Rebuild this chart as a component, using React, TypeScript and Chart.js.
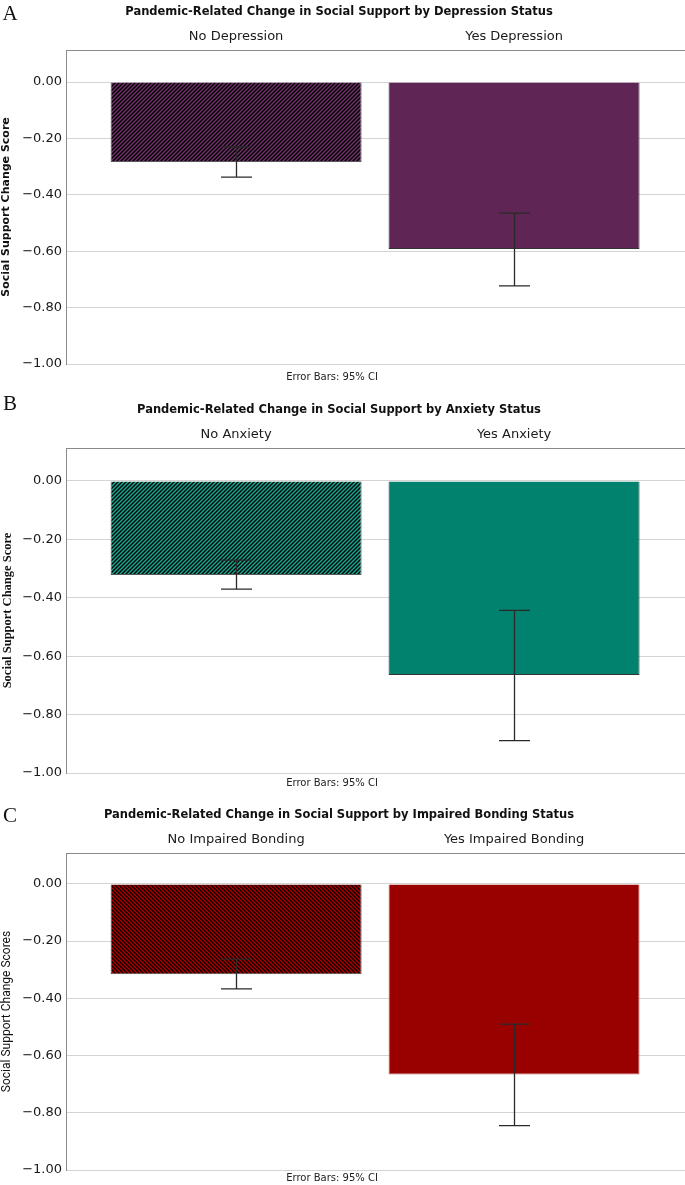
import React, { useEffect, useRef } from "react";
import { Chart, registerables } from "chart.js";

Chart.register(...registerables);

// ---------- DATA ----------
const Y_TICKS = [0, -0.2, -0.4, -0.6, -0.8, -1.0];

const catsA = ["No Depression", "Yes Depression"];
const meansA = [-0.284, -0.592];
const ciLowA = [-0.337, -0.723];
const ciHighA = [-0.23, -0.465];

const catsB = ["No Anxiety", "Yes Anxiety"];
const meansB = [-0.322, -0.664];
const ciLowB = [-0.37, -0.889];
const ciHighB = [-0.271, -0.443];

const catsC = ["No Impaired Bonding", "Yes Impaired Bonding"];
const meansC = [-0.316, -0.666];
const ciLowC = [-0.367, -0.845];
const ciHighC = [-0.263, -0.49];

const titleA = "Pandemic-Related Change in Social Support by Depression Status";
const titleB = "Pandemic-Related Change in Social Support by Anxiety Status";
const titleC = "Pandemic-Related Change in Social Support by Impaired Bonding Status";
const yTitleA = "Social Support Change Score";
const yTitleB = "Social Support Change Score";
const yTitleC = "Social Support Change Scores";
const footnote = "Error Bars: 95% CI";

const SANS = "'DejaVu Sans', sans-serif";
const SERIF = "'Liberation Serif', 'DejaVu Serif', serif";

function makeHatch(fg: string, bg: string, dir: string) {
  const p = 4;
  const c = document.createElement("canvas");
  c.width = p;
  c.height = p;
  const g = c.getContext("2d")!;
  g.fillStyle = bg;
  g.fillRect(0, 0, p, p);
  g.strokeStyle = fg;
  g.lineWidth = 1.5;
  g.beginPath();
  if (dir === "/") {
    g.moveTo(-1, p + 1); g.lineTo(p + 1, -1);
    g.moveTo(-1, 1); g.lineTo(1, -1);
    g.moveTo(p - 1, p + 1); g.lineTo(p + 1, p - 1);
  } else {
    g.moveTo(-1, -1); g.lineTo(p + 1, p + 1);
    g.moveTo(p - 1, -1); g.lineTo(p + 1, 1);
    g.moveTo(-1, p - 1); g.lineTo(1, p + 1);
  }
  g.stroke();
  return g.createPattern(c, "repeat");
}

const errorBarPlugin = {
  id: "errorBars",
  afterDatasetsDraw(chart: any, _args: any, opts: any) {
    const { lows, highs } = opts;
    if (!lows) return;
    const xs = chart.scales.x;
    const ys = chart.scales.y;
    const ctx = chart.ctx;
    ctx.save();
    ctx.strokeStyle = "#2a2a2a";
    ctx.lineWidth = 1.3;
    for (let i = 0; i < lows.length; i++) {
      const px = Math.round(xs.getPixelForValue(i)) + 0.5;
      const y1 = ys.getPixelForValue(highs[i]);
      const y2 = ys.getPixelForValue(lows[i]);
      ctx.beginPath();
      ctx.moveTo(px, y1);
      ctx.lineTo(px, y2);
      ctx.moveTo(px - 15.5, y1);
      ctx.lineTo(px + 15.5, y1);
      ctx.moveTo(px - 15.5, y2);
      ctx.lineTo(px + 15.5, y2);
      ctx.stroke();
    }
    ctx.restore();
  },
};

type PanelProps = {
  cats: string[];
  means: number[];
  lows: number[];
  highs: number[];
  solid: string;
  hatchFg: string;
  dir: string;
  borders: string[];
  yTitle: string;
  yTitleFont: any;
  top: number;
  height: number;
  chartTop: number;
  chartBottom: number;
  yMax: number;
};

function Panel(p: PanelProps) {
  const ref = useRef<HTMLCanvasElement>(null);
  useEffect(() => {
    const canvas = ref.current!;
    const hatch = makeHatch(p.hatchFg, "#000000", p.dir);
    const chart = new Chart(canvas, {
      type: "bar",
      data: {
        datasets: [
          {
            data: p.means.map((m, i) => ({ x: i, y: m })),
            backgroundColor: [hatch as any, p.solid],
            borderColor: p.borders,
            borderWidth: 1,
            barPercentage: 0.903,
            categoryPercentage: 1,
          },
        ],
      },
      options: {
        animation: false,
        responsive: false,
        maintainAspectRatio: false,
        layout: { padding: { left: 0, right: 0, top: 0, bottom: p.height - p.chartBottom } },
        plugins: {
          legend: { display: false },
          tooltip: { enabled: false },
          errorBars: { lows: p.lows, highs: p.highs },
        } as any,
        scales: {
          x: {
            type: "linear",
            position: "top",
            offset: false,
            min: -0.612,
            max: 1.615,
            grid: { display: false, drawTicks: false, offset: false },
            border: { display: true, color: "#8a8a8a", width: 1 },
            afterBuildTicks: (s: any) => {
              s.ticks = p.cats.map((_, i) => ({ value: i }));
            },
            afterFit: (s: any) => {
              s.height = p.chartTop;
            },
            ticks: {
              callback: (v: any) => p.cats[v] ?? "",
              font: { family: SANS, size: 13 },
              color: "#1a1a1a",
              padding: 6,
              maxRotation: 0,
              autoSkip: false,
            },
          },
          y: {
            type: "linear",
            min: -1,
            max: p.yMax,
            afterBuildTicks: (s: any) => {
              s.ticks = Y_TICKS.map((v) => ({ value: v }));
            },
            afterFit: (s: any) => {
              s.width = 66;
            },
            grid: { color: "#d4d4d4", drawTicks: false, lineWidth: 1 },
            border: { display: true, color: "#8a8a8a", width: 1 },
            ticks: {
              callback: (v: any) => {
                const n = Number(v);
                const s = Math.abs(n).toFixed(2);
                return n < -1e-9 ? "\u2212" + s : s;
              },
              font: { family: SANS, size: 13 },
              color: "#1a1a1a",
              padding: 4,
            },
            title: {
              display: true,
              text: p.yTitle,
              font: p.yTitleFont,
              color: "#111",
              padding: { top: 0, bottom: 0 },
            },
          },
        },
      } as any,
      plugins: [errorBarPlugin],
    });
    return () => chart.destroy();
  }, []);
  return (
    <canvas
      ref={ref}
      width={685}
      height={p.height}
      style={{ position: "absolute", left: 0, top: p.top, width: 685, height: p.height }}
    />
  );
}

function Txt(props: { x: number; y: number; text: string; style: any }) {
  return (
    <div
      style={{
        position: "absolute",
        left: props.x,
        top: props.y,
        transform: "translate(-50%, -50%)",
        whiteSpace: "nowrap",
        lineHeight: 1,
        ...props.style,
      }}
    >
      {props.text}
    </div>
  );
}

const titleStyle = { fontFamily: SANS, fontWeight: "bold", fontSize: 11.5, color: "#111" };
const footStyle = { fontFamily: SANS, fontSize: 10, color: "#222" };
const letterStyle = { fontFamily: SERIF, fontSize: 21, color: "#111" };

export default function App() {
  return (
    <div style={{ position: "absolute", left: 0, top: 0, width: 685, height: 1185, background: "#fff", overflow: "hidden" }}>
      <Panel
        cats={catsA} means={meansA} lows={ciLowA} highs={ciHighA}
        solid="#5e2555" hatchFg="#70306a" dir="/" borders={["#555", "#333"]}
        yTitle={yTitleA} yTitleFont={{ family: SANS, size: 11, weight: "bold" }}
        top={0} height={390} chartTop={50} chartBottom={364} yMax={0.1135}
      />
      <Panel
        cats={catsB} means={meansB} lows={ciLowB} highs={ciHighB}
        solid="#00826e" hatchFg="#18a690" dir="/" borders={["#555", "#333"]}
        yTitle={yTitleB} yTitleFont={{ family: SERIF, size: 12.5, weight: "bold" }}
        top={390} height={410} chartTop={58} chartBottom={383} yMax={0.113}
      />
      <Panel
        cats={catsC} means={meansC} lows={ciLowC} highs={ciHighC}
        solid="#990000" hatchFg="#b00000" dir="\\" borders={["#555", "#c06060"]}
        yTitle={yTitleC} yTitleFont={{ family: "Roboto, sans-serif", size: 12 }}
        top={800} height={385} chartTop={53} chartBottom={370} yMax={0.108}
      />
      <Txt x={10} y={13} text="A" style={letterStyle} />
      <Txt x={10} y={403} text="B" style={letterStyle} />
      <Txt x={10} y={815} text="C" style={letterStyle} />
      <Txt x={339} y={12} text={titleA} style={titleStyle} />
      <Txt x={339} y={410} text={titleB} style={titleStyle} />
      <Txt x={339} y={815} text={titleC} style={titleStyle} />
      <Txt x={332} y={377} text={footnote} style={footStyle} />
      <Txt x={332} y={783} text={footnote} style={footStyle} />
      <Txt x={332} y={1178} text={footnote} style={footStyle} />
    </div>
  );
}
